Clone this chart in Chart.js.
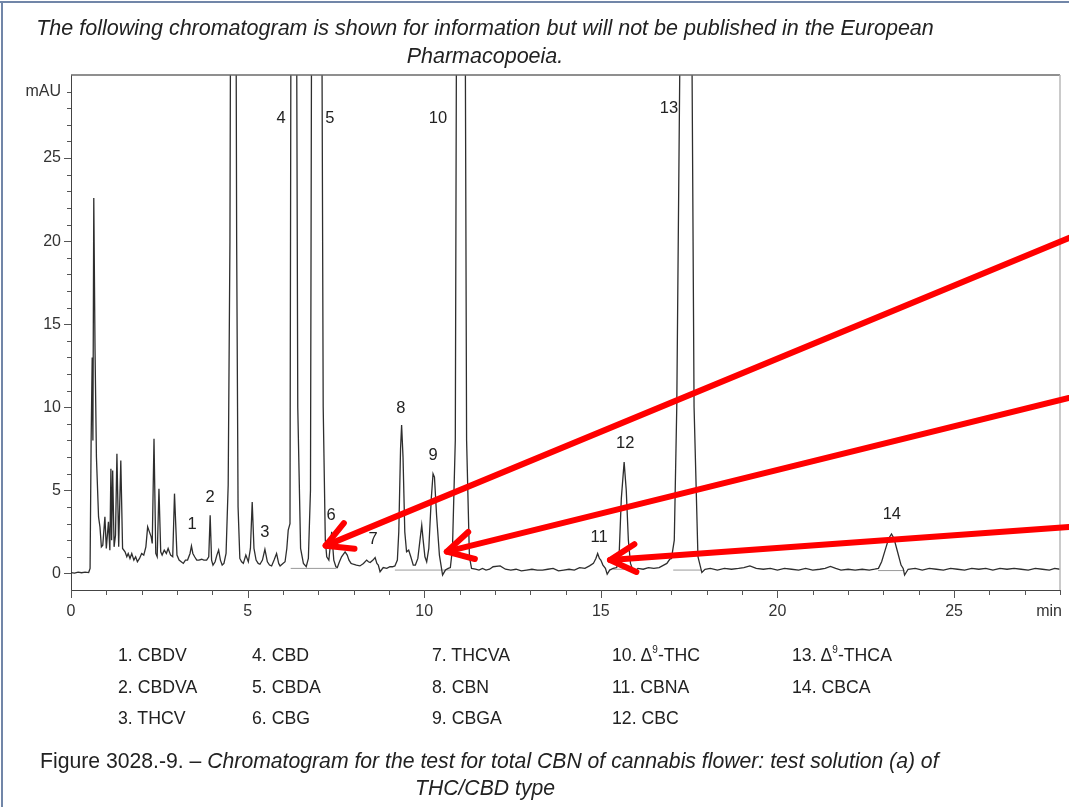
<!DOCTYPE html>
<html>
<head>
<meta charset="utf-8">
<script src="https://cdn.jsdelivr.net/npm/chart.js@4.4.1/dist/chart.umd.min.js"></script>
<style>
  html, body { margin: 0; padding: 0; background: #fff; }
  #page { position: relative; width: 1069px; height: 807px; overflow: hidden; background: #fff;
          font-family: "Liberation Sans", Arial, sans-serif; color: #222; }
  #frameTop { position: absolute; left: 0; top: 1px; width: 1069px; height: 2px; background: #7186a8; }
  #frameLeft { position: absolute; left: 1px; top: 1px; width: 2px; height: 806px; background: #7186a8; }
  #chart { position: absolute; left: 0; top: 0; }
  .line { position: absolute; white-space: nowrap; line-height: 1.15; }
  .title { font-style: italic; font-size: 21.5px; left: 0; width: 970px; text-align: center; }
  .legend { font-size: 17.7px; color: #222; }
  .legend sup { font-size: 10px; vertical-align: 8px; line-height: 0; }
  .caption { font-size: 21.2px; }
  .caption i { font-style: italic; }
</style>
</head>
<body>
<div id="page">
  <div id="frameTop"></div>
  <div id="frameLeft"></div>
  <canvas id="chart" width="1069" height="807"></canvas>
  <div class="line title" style="top:16px">The following chromatogram is shown for information but will not be published in the European</div>
  <div class="line title" style="top:44px">Pharmacopoeia.</div>
  <div id="legend"></div>
  <div class="line caption" style="left:40px; top:749px">Figure 3028.-9. – <i>Chromatogram for the test for total CBN of cannabis flower: test solution (a) of</i></div>
  <div class="line caption" style="left:0; width:970px; text-align:center; top:776px"><i>THC/CBD type</i></div>
</div>
<script>
// Retention time (min) and detector signal (mAU)
const times = [
  0.00, 0.10, 0.20, 0.30, 0.40, 0.50, 0.54, 0.57, 0.60, 0.62, 0.645, 0.68, 0.72, 0.78, 0.82, 0.86,
  0.90, 0.96, 1.00, 1.06, 1.10, 1.13, 1.15, 1.18, 1.22, 1.26, 1.30, 1.35, 1.41, 1.46, 1.53, 1.58,
  1.62, 1.67, 1.72, 1.78, 1.83, 1.88, 1.94, 2.00, 2.06, 2.12, 2.17, 2.22, 2.27, 2.30, 2.35, 2.40,
  2.44, 2.49, 2.54, 2.58, 2.64, 2.70, 2.75, 2.82, 2.88, 2.93, 3.00, 3.06, 3.12, 3.18, 3.24, 3.30,
  3.37, 3.41, 3.45, 3.50, 3.56, 3.62, 3.70, 3.76, 3.84, 3.90, 3.94, 3.98, 4.02, 4.08, 4.13, 4.18,
  4.23, 4.28, 4.33, 4.39, 4.45, 4.50, 4.55, 4.64, 4.69, 4.73, 4.78, 4.83, 4.88, 4.95, 5.02, 5.08,
  5.13, 5.18, 5.24, 5.30, 5.35, 5.42, 5.49, 5.56, 5.62, 5.68, 5.75, 5.82, 5.88, 5.92, 6.00, 6.06,
  6.11, 6.15, 6.20, 6.25, 6.35, 6.42, 6.50, 6.58, 6.66, 6.72, 6.78, 6.84, 7.06, 7.14, 7.20, 7.24,
  7.30, 7.38, 7.44, 7.50, 7.54, 7.60, 7.66, 7.76, 7.82, 7.87, 7.93, 7.99, 8.08, 8.18, 8.28, 8.37,
  8.42, 8.47, 8.55, 8.61, 8.66, 8.70, 8.75, 8.84, 8.94, 9.03, 9.10, 9.17, 9.24, 9.28, 9.33, 9.36,
  9.40, 9.45, 9.50, 9.56, 9.62, 9.69, 9.75, 9.82, 9.88, 9.93, 9.97, 10.02, 10.07, 10.13, 10.20, 10.25,
  10.29, 10.35, 10.43, 10.52, 10.60, 10.68, 10.74, 10.80, 10.88, 10.95, 11.12, 11.20, 11.28, 11.34, 11.45, 11.55,
  11.65, 11.75, 11.85, 11.95, 12.15, 12.30, 12.45, 12.60, 12.75, 12.90, 13.05, 13.20, 13.35, 13.50, 13.65, 13.80,
  13.95, 14.10, 14.25, 14.40, 14.55, 14.68, 14.79, 14.86, 14.91, 14.96, 15.00, 15.06, 15.13, 15.18, 15.25, 15.35,
  15.45, 15.52, 15.58, 15.66, 15.72, 15.78, 15.84, 15.90, 15.95, 16.05, 16.20, 16.35, 16.50, 16.65, 16.78, 16.87,
  16.95, 17.00, 17.08, 17.15, 17.36, 17.50, 17.64, 17.75, 17.86, 17.95, 18.10, 18.30, 18.50, 18.70, 18.90, 19.05,
  19.22, 19.40, 19.60, 19.80, 20.00, 20.20, 20.40, 20.60, 20.80, 21.00, 21.20, 21.35, 21.50, 21.65, 21.80, 22.00,
  22.20, 22.40, 22.60, 22.75, 22.86, 22.95, 23.05, 23.15, 23.23, 23.30, 23.40, 23.50, 23.56, 23.60, 23.70, 23.90,
  24.10, 24.30, 24.50, 24.70, 24.90, 25.10, 25.30, 25.50, 25.70, 25.90, 26.10, 26.30, 26.50, 26.70, 26.90, 27.10,
  27.30, 27.50, 27.70, 27.85, 28.00
];
const signal = [
  0.05, 0.02, 0.08, 0.04, 0.07, 0.05, 0.3, 8.0, 13.0, 8.0, 22.6, 13.5, 7.0, 3.4, 2.8, 1.6,
  1.7, 3.4, 1.5, 3.1, 1.4, 6.3, 2.0, 6.2, 1.6, 2.3, 7.2, 1.6, 6.8, 1.5, 1.3, 1.0,
  1.2, 0.9, 1.2, 0.8, 1.0, 0.7, 0.9, 1.2, 1.1, 1.6, 2.8, 2.5, 2.2, 1.8, 8.1, 1.2,
  1.0, 5.1, 1.3, 1.1, 1.4, 1.2, 1.5, 1.1, 1.0, 4.8, 1.1, 0.8, 0.7, 0.6, 0.8, 0.8,
  1.2, 1.65, 1.2, 1.0, 0.8, 0.8, 0.85, 0.8, 0.8, 1.0, 3.5, 0.8, 0.5, 0.7, 1.1, 1.4,
  0.8, 0.5, 0.6, 1.2, 5.3, 20, 60, 60, 20, 4, 0.9, 0.7, 0.6, 1.1, 0.7, 1.5,
  4.3, 1.5, 0.8, 0.6, 0.55, 0.8, 1.45, 0.7, 0.5, 0.45, 0.8, 1.2, 0.6, 0.45, 0.6, 0.7,
  1.5, 2.6, 3.0, 60, 60, 10, 1.5, 0.6, 0.4, 0.9, 5, 60, 60, 10, 2.0, 1.0,
  0.8, 2.5, 0.8, 0.4, 0.35, 0.7, 1.0, 1.3, 1.1, 0.8, 0.6, 0.55, 0.5, 0.45, 0.6, 0.8,
  0.7, 0.65, 0.8, 0.95, 0.6, 0.5, 0.1, 0.35, 0.3, 0.4, 0.4, 0.45, 0.8, 2.5, 7.5, 8.93,
  7.0, 2.5, 1.3, 1.4, 1.0, 0.5, 0.5, 0.9, 2.0, 2.9, 2.0, 1.0, 0.7, 1.5, 4.5, 6.0,
  5.8, 3.5, 1.1, -0.1, 0.2, 0.3, 0.35, 1.5, 8, 60, 60, 8, 1.0, 0.3, 0.25, 0.2,
  0.3, 0.2, 0.25, 0.4, 0.45, 0.25, 0.2, 0.25, 0.15, 0.2, 0.25, 0.2, 0.2, 0.25, 0.3, 0.15,
  0.2, 0.25, 0.2, 0.35, 0.3, 0.45, 0.6, 0.9, 1.2, 0.9, 0.8, 0.5, 0.3, -0.05, 0.2, 0.3,
  0.35, 1.2, 4.5, 6.7, 5.0, 2.0, 0.6, 0.25, 0.1, 0.3, 0.25, 0.35, 0.3, 0.35, 0.5, 0.6,
  0.85, 0.9, 2.0, 10, 60, 60, 10, 1.0, 0.05, 0.25, 0.3, 0.2, 0.3, 0.25, 0.3, 0.35,
  0.45, 0.3, 0.25, 0.3, 0.2, 0.3, 0.25, 0.2, 0.3, 0.2, 0.25, 0.3, 0.42, 0.3, 0.2, 0.25,
  0.2, 0.25, 0.2, 0.25, 0.3, 0.7, 1.4, 2.1, 2.37, 2.1, 1.3, 0.5, 0.3, -0.1, 0.25, 0.3,
  0.2, 0.3, 0.25, 0.2, 0.3, 0.25, 0.2, 0.3, 0.25, 0.3, 0.2, 0.3, 0.25, 0.3, 0.25, 0.2,
  0.3, 0.25, 0.2, 0.3, 0.25
];

// Integration baselines drawn under the integrated peaks
const baseStart = [6.22, 9.17, 15.35, 17.05, 22.85];
const baseEnd   = [7.52, 11.30, 15.97, 17.86, 23.60];
const baseLevel = [0.30, 0.20, 0.25, 0.20, 0.17];

// Peak numbers and where their labels sit (min, mAU)
const peakNums   = ['1', '2', '3', '4', '5', '6', '7', '8', '9', '10', '11', '12', '13', '14'];
const peakLabelT = [3.43, 3.94, 5.49, 5.95, 7.33, 7.36, 8.55, 9.34, 10.25, 10.39, 14.95, 15.69, 16.93, 23.24];
const peakLabelY = [2.97, 4.60, 2.49, 27.4, 27.4, 3.46, 2.07, 9.90, 7.07, 27.36, 2.19, 7.85, 27.96, 3.52];

// Peak identities for the key below the chart
const peakNames = ['CBDV', 'CBDVA', 'THCV', 'CBD', 'CBDA', 'CBG', 'THCVA', 'CBN', 'CBGA',
                   'Δ9-THC', 'CBNA', 'CBC', 'Δ9-THCA', 'CBCA'];

// Red annotation arrows (tail -> tip), in min / mAU
const arrowFromT = [28.25, 28.25, 28.25];
const arrowFromY = [20.19, 10.56, 2.79];
const arrowToT   = [7.21, 10.64, 15.26];
const arrowToY   = [1.67, 1.31, 0.81];

// Axis limits
const tMin = 0, tMax = 28, yMin = -1, yMax = 30;

// key below the chart
const legendCols = [118, 252, 432, 612, 792];
const legendRows = [645, 677, 708];
const legendEl = document.getElementById('legend');
peakNames.forEach((name, i) => {
  const d = document.createElement('div');
  d.className = 'line legend';
  d.style.left = legendCols[Math.floor(i / 3)] + 'px';
  d.style.top = legendRows[i % 3] + 'px';
  d.innerHTML = peakNums[i] + '. ' + name.replace('Δ9', 'Δ<sup>9</sup>');
  legendEl.appendChild(d);
});

const tracePoints = times.map((t, i) => ({ x: t, y: signal[i] }));
const baseSets = baseStart.map((s, i) => ({
  data: [{ x: s, y: baseLevel[i] }, { x: baseEnd[i], y: baseLevel[i] }],
  showLine: true,
  borderColor: '#9a9a9a',
  borderWidth: 1,
  pointRadius: 0,
  order: 2
}));

const FONT = '"Liberation Sans", Arial, sans-serif';

const extras = {
  id: 'extras',
  afterDatasetsDraw(chart) {
    const ctx = chart.ctx;
    const xs = chart.scales.x, ys = chart.scales.y;
    const ca = chart.chartArea;
    ctx.save();

    // box top and right edge
    ctx.strokeStyle = '#6a6a6a';
    ctx.lineWidth = 1.5;
    ctx.beginPath();
    ctx.moveTo(ca.left, ca.top);
    ctx.lineTo(ca.right, ca.top);
    ctx.stroke();
    ctx.strokeStyle = '#b8b8b8';
    ctx.beginPath();
    ctx.moveTo(ca.right, ca.top);
    ctx.lineTo(ca.right, ca.bottom);
    ctx.stroke();

    // tick marks: long on labelled values, short otherwise
    ctx.strokeStyle = '#555';
    ctx.lineWidth = 1;
    xs.ticks.forEach(tk => {
      const px = Math.round(xs.getPixelForValue(tk.value)) + 0.5;
      const len = tk.value % 5 === 0 ? 8 : 5;
      ctx.beginPath();
      ctx.moveTo(px, ca.bottom);
      ctx.lineTo(px, ca.bottom + len);
      ctx.stroke();
    });
    ys.ticks.forEach(tk => {
      if (tk.value < 0 || tk.value >= yMax) return;
      const py = Math.round(ys.getPixelForValue(tk.value)) + 0.5;
      const len = tk.value % 5 === 0 ? 7 : 4;
      ctx.beginPath();
      ctx.moveTo(ca.left - len, py);
      ctx.lineTo(ca.left, py);
      ctx.stroke();
    });

    // axis unit on the time axis
    ctx.fillStyle = '#333';
    ctx.font = '16px ' + FONT;
    ctx.textAlign = 'right';
    ctx.textBaseline = 'top';
    ctx.fillText('min', ca.right + 2, ca.bottom + 14);

    // peak numbers
    ctx.fillStyle = '#222';
    ctx.font = '16.5px ' + FONT;
    ctx.textAlign = 'center';
    ctx.textBaseline = 'middle';
    peakNums.forEach((n, i) => {
      ctx.fillText(n, xs.getPixelForValue(peakLabelT[i]), ys.getPixelForValue(peakLabelY[i]));
    });
    ctx.restore();
  },
  afterDraw(chart) {
    const ctx = chart.ctx;
    const xs = chart.scales.x, ys = chart.scales.y;
    ctx.save();
    ctx.strokeStyle = '#ff0000';
    ctx.lineWidth = 6;
    ctx.lineCap = 'round';
    ctx.lineJoin = 'round';
    arrowToT.forEach((t, i) => {
      const x0 = xs.getPixelForValue(arrowFromT[i]), y0 = ys.getPixelForValue(arrowFromY[i]);
      const x1 = xs.getPixelForValue(t), y1 = ys.getPixelForValue(arrowToY[i]);
      const ang = Math.atan2(y0 - y1, x0 - x1);
      const head = 29, spread = 0.5;
      ctx.beginPath();
      ctx.moveTo(x0, y0);
      ctx.lineTo(x1, y1);
      ctx.stroke();
      ctx.beginPath();
      ctx.moveTo(x1 + head * Math.cos(ang - spread), y1 + head * Math.sin(ang - spread));
      ctx.lineTo(x1, y1);
      ctx.lineTo(x1 + head * Math.cos(ang + spread), y1 + head * Math.sin(ang + spread));
      ctx.stroke();
    });
    ctx.restore();
  }
};

new Chart(document.getElementById('chart'), {
  type: 'scatter',
  data: {
    datasets: [{
      data: tracePoints,
      showLine: true,
      borderColor: '#2e2e2e',
      borderWidth: 1.3,
      pointRadius: 0,
      tension: 0,
      order: 1
    }].concat(baseSets)
  },
  options: {
    responsive: false,
    animation: false,
    events: [],
    layout: { padding: { left: 0, top: 75, right: 9, bottom: 187 } },
    plugins: { legend: { display: false }, tooltip: { enabled: false } },
    scales: {
      x: {
        type: 'linear',
        min: tMin,
        max: tMax,
        afterFit: s => { s.height = 30; },
        grid: { display: true, drawOnChartArea: false, drawTicks: true, tickLength: 8, tickColor: 'rgba(0,0,0,0)' },
        border: { display: true, color: '#444', width: 1 },
        ticks: {
          stepSize: 1,
          autoSkip: false,
          maxRotation: 0,
          padding: 4,
          color: '#333',
          font: { family: FONT, size: 16 },
          callback: v => (v % 5 === 0 && v < tMax ? String(v) : '')
        }
      },
      y: {
        type: 'linear',
        min: yMin,
        max: yMax,
        afterFit: s => { s.width = 71; },
        grid: { display: true, drawOnChartArea: false, drawTicks: true, tickLength: 7, tickColor: 'rgba(0,0,0,0)' },
        border: { display: true, color: '#444', width: 1 },
        ticks: {
          stepSize: 1,
          autoSkip: false,
          padding: 3,
          color: '#333',
          font: { family: FONT, size: 16 },
          callback: v => (v === 29 ? 'mAU' : (v >= 0 && v % 5 === 0 && v < yMax ? String(v) : ''))
        }
      }
    }
  },
  plugins: [extras]
});
</script>
</body>
</html>
